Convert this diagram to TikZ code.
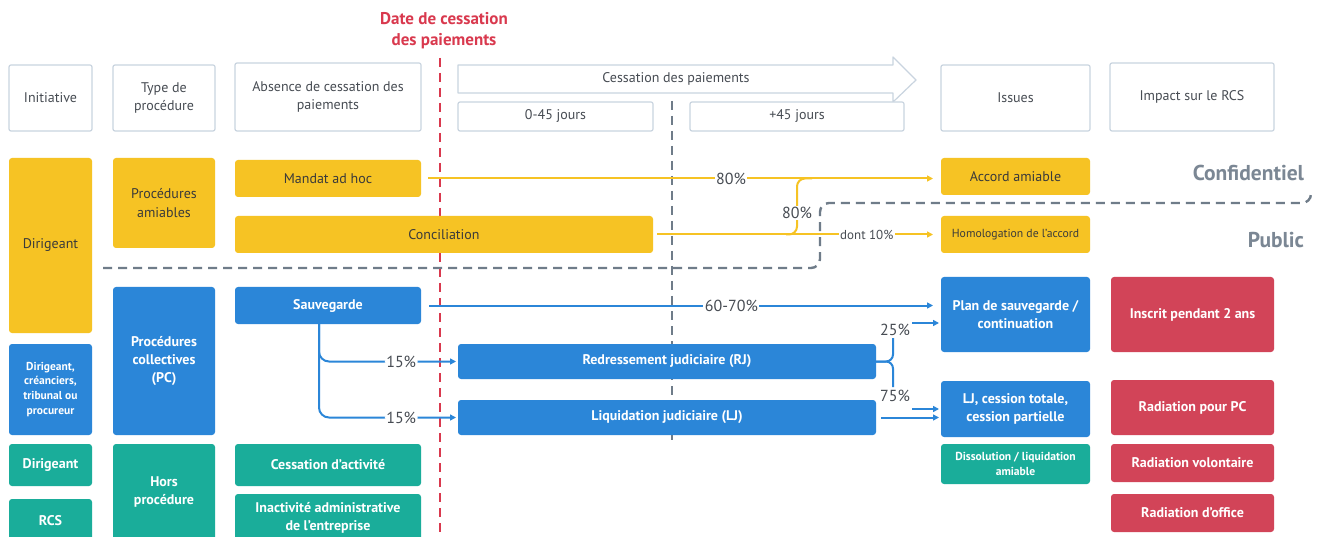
\documentclass[tikz,border=0pt]{standalone}
\usepackage{fontspec}
\setmainfont{PT Sans}
\usetikzlibrary{arrows.meta,calc}
\definecolor{ylw}{HTML}{F6C324}
\definecolor{blu}{HTML}{2B86D8}
\definecolor{tea}{HTML}{1AAD9A}
\definecolor{rdb}{HTML}{D24458}
\definecolor{hdrc}{HTML}{C9D4DF}
\definecolor{txt}{HTML}{474C53}
\definecolor{dtx}{HTML}{3A3A3A}
\definecolor{gry}{HTML}{6F7C89}
\definecolor{lgry}{HTML}{7B8794}
\definecolor{redl}{HTML}{D9394E}
\newcommand\fs[1]{\fontsize{#1pt}{\dimexpr #1pt*13/10\relax}\selectfont}
\newcommand\bx[7]{\node[#6, minimum width={(#4-#2)*1pt}, minimum height={(#5-#3)*1pt}] (#1) at ({(#2+#4)/2},{(#3+#5)/2}) {#7};}
\begin{document}
\begin{tikzpicture}[x=1pt,y=-1pt,
  every node/.style={inner sep=0pt, outer sep=0pt, align=center},
  hdr/.style={draw=hdrc, line width=1.2pt, rounded corners=2pt, fill=white, text=txt, font=\fs{14}},
  ybox/.style={fill=ylw, rounded corners=3pt, text=dtx, font=\fs{14}},
  bbox/.style={fill=blu, rounded corners=3pt, text=white, font=\bfseries\fs{14}},
  tbox/.style={fill=tea, rounded corners=3pt, text=white, font=\bfseries\fs{14}},
  rbox/.style={fill=rdb, rounded corners=3pt, text=white, font=\bfseries\fs{14}},
  arr/.style={-{Triangle[length=6pt,width=6pt]}},
  yl/.style={draw=ylw, line width=2pt},
  bl/.style={draw=blu, line width=2pt},
  lab/.style={fill=white, inner sep=1.5pt, text=txt, font=\fs{16}}
]
\clip (0,0) rectangle (1322,537);
\fill[white] (0,0) rectangle (1322,537);

% header
\bx{hini}{9}{65}{92}{131}{hdr}{Initiative}
\bx{htyp}{113}{65}{215}{131}{hdr}{Type de\\procédure}
\bx{habs}{235}{63}{421}{131}{hdr}{Absence de cessation des\\paiements}
\draw[draw=hdrc, line width=1.2pt, fill=white, line join=round] (458,65) -- (893,65) -- (893,57) -- (916,80) -- (893,102) -- (893,93) -- (458,93) -- cycle;
\node[text=txt, font=\fs{14}] (hces) at (676,79) {Cessation des paiements};
\bx{h045}{458}{102}{653}{131}{hdr}{0-45 jours}
\bx{h45}{690}{102}{904}{131}{hdr}{+45 jours}
\bx{hiss}{941}{65}{1090}{131}{hdr}{Issues}
\bx{himp}{1110}{63}{1274}{131}{hdr}{Impact sur le RCS}

% date line
\node[text=redl, font=\bfseries\fs{17}] (date) at (444,31) {Date de cessation\\[-1pt]des paiements};
\coordinate (r1) at (440,58);
\coordinate (r2) at (440,537);
\draw[redl, line width=2.6pt, dash pattern=on 9pt off 6pt] (r1) -- (r2);
\coordinate (g1) at (672,101);
\coordinate (g2) at (672,440);
\draw[gry, line width=2.4pt, dash pattern=on 9pt off 6pt] (g1) -- (g2);

% left column
\bx{dir1}{9}{158}{92}{333}{ybox}{Dirigeant}
\bx{dir2}{9}{344}{92}{435}{bbox, font=\bfseries\fs{11.5}}{Dirigeant,\\créanciers,\\tribunal ou\\procureur}
\bx{dir3}{9}{444}{92}{486}{tbox}{Dirigeant}
\bx{rcs}{9}{499}{92}{543}{tbox}{RCS}
% second column
\bx{pam}{113}{158}{215}{248}{ybox}{Procédures\\amiables}
\bx{pcol}{113}{287}{215}{435}{bbox}{Procédures\\collectives\\(PC)}
\bx{hors}{113}{444}{215}{540}{tbox}{Hors\\procédure}
% third column
\bx{mand}{235}{160}{421}{197}{ybox}{Mandat ad hoc}
\bx{conc}{235}{216}{653}{253}{ybox}{Conciliation}
\bx{sauv}{235}{287}{421}{324}{bbox}{Sauvegarde}
\bx{cess}{235}{444}{421}{486}{tbox}{Cessation d’activité}
\bx{inac}{235}{494}{421}{542}{tbox}{Inactivité administrative\\de l’entreprise}
% middle
\bx{rj}{458}{344}{876}{379}{bbox}{Redressement judiciaire (RJ)}
\bx{lj}{458}{400}{876}{435}{bbox}{Liquidation judiciaire (LJ)}
% issues
\bx{acc}{941}{158}{1090}{195}{ybox}{Accord amiable}
\bx{homo}{941}{216}{1090}{253}{ybox, font=\fs{11.7}}{Homologation de l’accord}
\bx{plan}{941}{277}{1090}{352}{bbox}{Plan de sauvegarde /\\continuation}
\bx{ljc}{941}{381}{1090}{437}{bbox}{LJ, cession totale,\\cession partielle}
\bx{diss}{941}{444}{1090}{484}{tbox, font=\bfseries\fs{11.6}}{Dissolution / liquidation\\amiable}
% impact
\bx{insc}{1111}{277}{1274}{352}{rbox}{Inscrit pendant 2 ans}
\bx{radpc}{1111}{380}{1274}{435}{rbox}{Radiation pour PC}
\bx{radv}{1111}{444}{1274}{482}{rbox}{Radiation volontaire}
\bx{rado}{1111}{494}{1274}{532}{rbox}{Radiation d’office}

% confidential / public separator
\coordinate (s1) at (103,268);
\coordinate (s2) at (1311,195);
\draw[gry, line width=2.4pt, dash pattern=on 9pt off 6pt, rounded corners=9pt] (s1) -- (820,268) -- (820,203) -- (1311,203) -- (s2);
\node[text=lgry, font=\bfseries\fs{21.5}, anchor=east] (conf) at (1304,173) {Confidentiel};
\node[text=lgry, font=\bfseries\fs{21.5}, anchor=east] (pub) at (1304,240) {Public};

% yellow connectors
\draw[yl, arr] ([xshift=7pt]mand.east) -- node[lab, pos=0.6] {80\%} ([xshift=-8pt]acc.west |- mand.east);
\draw[yl, arr] ([xshift=4pt]conc.east) -- node[lab, pos=0.76, font=\fs{13}] {dont 10\%} ([xshift=-8pt]homo.west |- conc.east);
\coordinate (yb1) at (786,234.5);
\coordinate (yb2) at (812,178.5);
\draw[yl, rounded corners=8pt] (yb1) -- (797,234.5) -- (797,178.5) -- (yb2);
\node[lab] (p80b) at (797,213) {80\%};

% blue connectors
\draw[bl, arr] ([xshift=8pt]sauv.east) -- node[lab, pos=0.6] {60-70\%} ([xshift=-8pt]plan.west |- sauv.east);
\draw[bl, arr, rounded corners=10pt] ([shift={(-9pt,8pt)}]sauv.south) |- node[lab, pos=0.8] {15\%} ([xshift=-2pt]rj.west);
\draw[bl, arr, rounded corners=10pt] ([shift={(-9pt,8pt)}]sauv.south) |- node[lab, pos=0.8] {15\%} ([xshift=-2pt]lj.west);
\draw[bl, rounded corners=7pt] (893,338) -- (893,361.5) -- (rj.east);
\draw[bl, rounded corners=7pt] (893,387) -- (893,361.5) -- (rj.east);
\node[text=txt, font=\fs{16}] (p25) at (895,330) {25\%};
\node[text=txt, font=\fs{16}] (p75) at (895,396) {75\%};
\coordinate (a25) at (912,323);
\coordinate (a75) at (912,409);
\draw[bl, arr] (a25) -- ([xshift=-2pt]plan.west |- a25);
\draw[bl, arr] (a75) -- ([xshift=-2pt]ljc.west |- a75);
\draw[bl, arr] ([xshift=5pt]lj.east) -- ([xshift=-2pt]ljc.west |- lj.east);
\end{tikzpicture}
\end{document}
